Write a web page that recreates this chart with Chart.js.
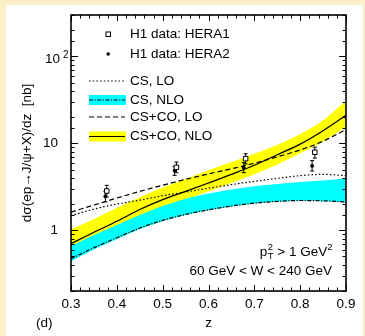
<!DOCTYPE html>
<html>
<head>
<meta charset="utf-8">
<script src="https://cdn.jsdelivr.net/npm/chart.js@4.4.1/dist/chart.umd.min.js"></script>
<style>
  html, body { margin: 0; padding: 0; background: #fdefc8; }
  #wrap { position: absolute; left: 6px; top: 5px; width: 357px; height: 331px; background: #fff; }
</style>
</head>
<body>
<div id="wrap"><canvas id="chart" width="357" height="331"></canvas></div>
<script>
// theory curves, sampled in z
const zGrid = [0.3, 0.35, 0.4, 0.45, 0.5, 0.55, 0.6, 0.65, 0.7, 0.75, 0.8, 0.85, 0.9]

const csLO      = [1.47, 1.75, 2.0, 2.22, 2.5, 2.75, 3.05, 3.35, 3.65, 3.95, 4.25, 4.4, 4.25]
const csNLO     = [0.47, 0.63, 0.82, 1.06, 1.3, 1.52, 1.72, 1.9, 2.05, 2.15, 2.2, 2.18, 2.12]
const csNLOHigh = [0.66, 0.88, 1.15, 1.5, 1.9, 2.3, 2.65, 2.95, 3.2, 3.4, 3.6, 3.75, 3.95]
const csNLOLow  = [0.44, 0.6, 0.79, 1.03, 1.27, 1.5, 1.7, 1.88, 2.03, 2.13, 2.18, 2.16, 2.1]

const cscoLO      = [1.62, 1.95, 2.35, 2.8, 3.3, 3.85, 4.45, 5.1, 5.9, 7.0, 8.4, 10.6, 14.4]
const cscoNLO     = [0.7, 0.95, 1.27, 1.73, 2.25, 2.8, 3.5, 4.4, 5.6, 7.4, 9.8, 14.0, 21.0]
const cscoNLOHigh = [1.02, 1.35, 1.8, 2.4, 3.1, 3.9, 4.9, 6.1, 7.6, 9.6, 12.8, 18.5, 31.0]
const cscoNLOLow  = [0.6, 0.78, 1.02, 1.38, 1.78, 2.25, 2.8, 3.5, 4.4, 5.7, 7.7, 10.5, 15.5]

// H1 measurements
const hera1Z   = [0.378, 0.53, 0.681, 0.832]
const hera1Val = [2.83, 5.3, 6.67, 7.9]
const hera1Lo  = [2.41, 4.6, 5.8, 6.77]
const hera1Hi  = [3.29, 6.1, 7.6, 9.05]

const hera2Z   = [0.375, 0.526, 0.677, 0.826]
const hera2Val = [2.46, 4.85, 5.25, 5.5]
const hera2Lo  = [2.12, 4.28, 4.6, 4.8]
const hera2Hi  = [2.8, 5.4, 6.0, 6.36]

const xTickLabels = ['0.3', '0.4', '0.5', '0.6', '0.7', '0.8', '0.9']
const yTickLabels = ['1', '10']

const FONT = 'Liberation Sans, Arial, Helvetica, sans-serif'
const YELLOW = '#ffff00'
const CYAN = '#00ffff'
const DOT = [1.5, 2.2]
const DASHDOT = [4, 1.5, 1.2, 1.5]
const DASH = [5, 3]

const pts = (xs, ys) => xs.map((x, i) => ({ x: x, y: ys[i] }))

const curve = (vals, dash, order) => ({
  data: pts(zGrid, vals),
  borderColor: '#000',
  borderWidth: 1.2,
  borderDash: dash,
  pointRadius: 0,
  fill: false,
  tension: 0.4,
  cubicInterpolationMode: 'monotone',
  order: order
})

const band = (vals, colour, order, fillTo) => ({
  data: pts(zGrid, vals),
  borderColor: 'transparent',
  borderWidth: 0,
  backgroundColor: colour,
  pointRadius: 0,
  fill: fillTo,
  tension: 0.4,
  cubicInterpolationMode: 'monotone',
  order: order
})

// vertical error bars, drawn just before the markers of a data set
const errorBars = {
  id: 'errorBars',
  beforeDatasetDraw(chart, args) {
    const ds = chart.data.datasets[args.index]
    if (!ds.errLo) return
    const y = chart.scales.y
    const c = chart.ctx
    c.save()
    c.strokeStyle = '#000'
    c.lineWidth = 1
    args.meta.data.forEach((p, i) => {
      const top = y.getPixelForValue(ds.errHi[i])
      const bot = y.getPixelForValue(ds.errLo[i])
      c.beginPath()
      c.moveTo(p.x, top); c.lineTo(p.x, bot)
      c.moveTo(p.x - 2, top); c.lineTo(p.x + 2, top)
      c.moveTo(p.x - 2, bot); c.lineTo(p.x + 2, bot)
      c.stroke()
    })
    c.restore()
  }
}

// box frame with inward tick marks on all four sides
const frameTicks = {
  id: 'frameTicks',
  afterDraw(chart) {
    const { ctx: c, chartArea: a, scales: { x, y } } = chart
    c.save()
    c.strokeStyle = '#000'
    c.lineWidth = 1
    c.beginPath()
    x.ticks.forEach(t => {
      const px = Math.round(x.getPixelForValue(t.value)) + 0.5
      const len = Math.round(t.value * 100) % 10 === 0 ? 6 : 3.5
      c.moveTo(px, a.bottom); c.lineTo(px, a.bottom - len)
      c.moveTo(px, a.top); c.lineTo(px, a.top + len)
    })
    y.ticks.forEach(t => {
      const py = Math.round(y.getPixelForValue(t.value)) + 0.5
      const l = Math.log10(t.value)
      const len = Math.abs(l - Math.round(l)) < 1e-6 ? 7 : 3.5
      c.moveTo(a.left, py); c.lineTo(a.left + len, py)
      c.moveTo(a.right, py); c.lineTo(a.right - len, py)
    })
    c.stroke()
    c.lineWidth = 1.6
    c.strokeRect(a.left, a.top, a.right - a.left, a.bottom - a.top)

    // 10^2 label
    const y100 = y.getPixelForValue(100)
    c.fillStyle = '#000'
    c.textBaseline = 'middle'
    c.textAlign = 'right'
    c.font = '13.5px ' + FONT
    c.fillText('10', a.left - 11, y100 + 3)
    c.textAlign = 'left'
    c.font = '10px ' + FONT
    c.fillText('2', a.left - 8, y100 - 1)

    c.font = '13.5px ' + FONT
    c.textAlign = 'left'
    c.fillText('(d)', 30, a.bottom + 32)
    c.restore()
  }
}

// legend inside the plot
const legendRows = [
  { label: 'H1 data: HERA1', dy: 19 },
  { label: 'H1 data: HERA2', dy: 39 },
  { label: 'CS, LO', dy: 66 },
  { label: 'CS, NLO', dy: 85 },
  { label: 'CS+CO, LO', dy: 102 },
  { label: 'CS+CO, NLO', dy: 121.5 }
]

const legendBox = {
  id: 'legendBox',
  afterDraw(chart) {
    const { ctx: c, chartArea: a } = chart
    const x0 = a.left + 18, x1 = a.left + 54, tx = a.left + 59
    const yy = legendRows.map(r => a.top + r.dy)
    c.save()
    c.strokeStyle = '#000'
    c.fillStyle = '#000'

    // markers
    c.lineWidth = 1
    c.fillStyle = '#fff'
    c.fillRect(a.left + 35, yy[0] - 2, 4.5, 4.5)
    c.strokeRect(a.left + 35, yy[0] - 2, 4.5, 4.5)
    c.fillStyle = '#000'
    c.beginPath(); c.arc(a.left + 37.2, yy[1], 1.8, 0, Math.PI * 2); c.fill()

    // bands
    c.fillStyle = CYAN
    c.fillRect(x0, yy[3] - 5, x1 - x0 + 1, 10)
    c.fillStyle = YELLOW
    c.fillRect(x0, yy[5] - 5, x1 - x0 + 1, 10)

    const seg = (yv, dash) => {
      c.setLineDash(dash)
      c.lineWidth = 1.2
      c.beginPath(); c.moveTo(x0, yv); c.lineTo(x1, yv); c.stroke()
    }
    seg(yy[2], DOT)
    seg(yy[3], DASHDOT)
    seg(yy[4], DASH)
    seg(yy[5], [])
    c.setLineDash([])

    c.fillStyle = '#000'
    c.font = '13.5px ' + FONT
    c.textBaseline = 'middle'
    c.textAlign = 'left'
    legendRows.forEach((r, i) => c.fillText(r.label, tx, yy[i]))
    c.restore()
  }
}

// kinematic cuts, lower right
const notes = {
  id: 'notes',
  afterDraw(chart) {
    const { ctx: c, chartArea: a } = chart
    const right = a.right - 14
    c.save()
    c.fillStyle = '#000'
    c.textBaseline = 'middle'
    c.font = '13.5px ' + FONT
    c.textAlign = 'right'
    const y2 = a.bottom - 20
    c.fillText('60 GeV < W < 240 GeV', right, y2)

    const y1 = a.bottom - 39
    const big = '13.5px ' + FONT, small = '9.5px ' + FONT
    c.font = small
    const wSup = c.measureText('2').width
    c.font = big
    const wMid = c.measureText(' > 1 GeV').width
    const wP = c.measureText('p').width
    c.font = small
    const wT = c.measureText('T').width
    let x = right - wSup - wMid - Math.max(wT, wSup) - wP
    c.textAlign = 'left'
    c.font = big
    c.fillText('p', x, y1)
    x += wP + 0.5
    c.font = small
    c.fillText('T', x, y1 + 4)
    c.fillText('2', x, y1 - 5)
    x += Math.max(wT, wSup)
    c.font = big
    c.fillText(' > 1 GeV', x, y1)
    x += wMid
    c.font = small
    c.fillText('2', x, y1 - 5)
    c.restore()
  }
}

// fixed axis boxes, no extra room for end labels
const fixBox = (w, h) => s => {
  if (w) s.width = w
  if (h) s.height = h
  s.paddingTop = 0
  s.paddingBottom = 0
  s.paddingLeft = 0
  s.paddingRight = 0
}

const ctx = document.querySelector('#chart')

const chart = new Chart(ctx, {
  type: 'line',
  data: {
    datasets: [
      band(cscoNLOHigh, YELLOW, 21, '+1'),
      band(cscoNLOLow, YELLOW, 22, false),
      band(csNLOHigh, CYAN, 19, '+1'),
      band(csNLOLow, CYAN, 20, false),
      curve(csLO, DOT, 5),
      curve(csNLO, DASHDOT, 4),
      curve(cscoLO, DASH, 3),
      curve(cscoNLO, [], 2),
      {
        data: pts(hera2Z, hera2Val),
        showLine: false,
        pointStyle: 'circle',
        pointRadius: 1.9,
        pointBackgroundColor: '#000',
        pointBorderColor: '#000',
        pointBorderWidth: 0,
        errLo: hera2Lo,
        errHi: hera2Hi,
        order: 1
      },
      {
        data: pts(hera1Z, hera1Val),
        showLine: false,
        pointStyle: 'rect',
        pointRadius: 3.2,
        pointBackgroundColor: '#fff',
        pointBorderColor: '#000',
        pointBorderWidth: 1,
        errLo: hera1Lo,
        errHi: hera1Hi,
        order: 0
      }
    ]
  },
  options: {
    responsive: false,
    animation: false,
    events: [],
    layout: { padding: { top: 10, right: 17, left: 0, bottom: 0 } },
    plugins: {
      legend: { display: false },
      tooltip: { enabled: false },
      filler: { propagate: false }
    },
    scales: {
      x: {
        type: 'linear',
        min: 0.3,
        max: 0.9,
        grid: { display: false, drawTicks: false },
        border: { display: false },
        ticks: {
          stepSize: 0.02,
          autoSkip: false,
          maxRotation: 0,
          padding: 5,
          color: '#000',
          font: { family: FONT, size: 13.5 },
          callback: v => {
            const k = Math.round(v * 100)
            return k % 10 === 0 ? xTickLabels[(k - 30) / 10] : ''
          }
        },
        title: {
          display: true,
          text: 'z',
          color: '#000',
          font: { family: FONT, size: 13.5 },
          padding: { top: 0, bottom: 5 }
        },
        afterFit: fixBox(0, 45)
      },
      y: {
        type: 'logarithmic',
        min: 0.2,
        max: 300,
        grid: { display: false, drawTicks: false },
        border: { display: false },
        ticks: {
          autoSkip: false,
          padding: 13,
          color: '#000',
          font: { family: FONT, size: 13.5 },
          callback: v => {
            if (v === 1) return yTickLabels[0]
            if (v === 10) return yTickLabels[1]
            return ''
          }
        },
        title: {
          display: true,
          text: 'dσ(ep→J/ψ+X)/dz  [nb]',
          color: '#000',
          font: { family: FONT, size: 13.5 },
          padding: { top: 13, bottom: 0 }
        },
        afterFit: fixBox(65, 0)
      }
    }
  },
  plugins: [errorBars, frameTicks, legendBox, notes]
})
</script>
</body>
</html>
